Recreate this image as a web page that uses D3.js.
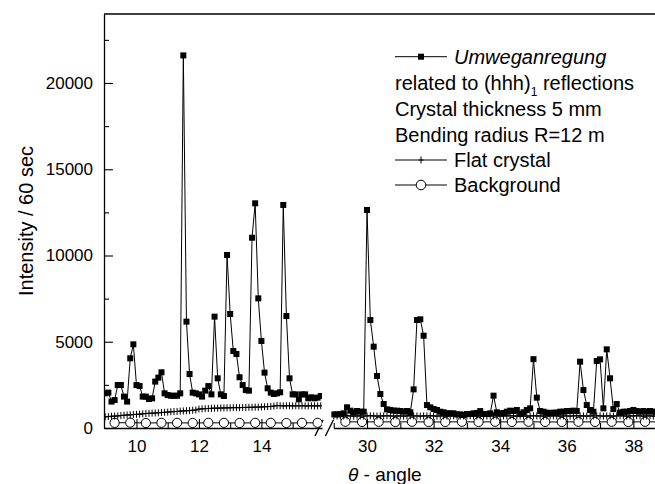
<!DOCTYPE html>
<html>
<head>
<meta charset="utf-8">
<script src="https://cdn.jsdelivr.net/npm/d3@7"></script>
<style>
  body { margin: 0; background: #fff; }
  svg { display: block; }
  text, tspan { font-family: "Liberation Sans", Arial, sans-serif; fill: #000; }
</style>
</head>
<body>
<svg id="chart" width="655" height="484"></svg>
<script>
// ---- scan grids (angle in degrees) ----
const scanLeft  = { start: 9.0,  step: 0.1 };
const scanRight = { start: 29.0, step: 0.1 };

// Umweganregung intensities, low-angle scan (9.0 .. 15.9 deg)
const umwegLeft = [
  2010, 2050, 1530, 1620, 2490, 2490, 1820, 1530, 4040, 4850,
  2490, 2430, 1820, 1820, 1680, 1720, 2690, 2920, 3230, 2010,
  1910, 1870, 1870, 1870, 2010, 21600, 6165, 3130, 2050, 2010,
  1950, 1820, 2165, 2430, 1950, 6455, 2880, 1950, 1855, 10030,
  6610, 4465, 4290, 2940, 2490, 2200, 2165, 11030, 13025, 7515,
  5045, 3210, 2300, 2050, 1970, 2010, 2070, 12930, 6490, 2880,
  1950, 1950, 1660, 1950, 1950, 1720, 1780, 1720, 1760, 1855
];
// Umweganregung intensities, high-angle scan (29.0 .. 38.7 deg)
const umwegRight = [
  790, 790, 800, 850, 1200, 1005, 910, 985, 945, 945,
  12640, 6260, 4715, 3015, 1970, 1390, 1080, 1045, 1005, 1005,
  985, 945, 985, 910, 2240, 6260, 6300, 5350, 1330, 1200,
  1100, 1045, 945, 910, 850, 850, 850, 790, 790, 755,
  810, 810, 850, 870, 980, 810, 810, 850, 1875, 910,
  850, 870, 945, 1005, 985, 1045, 810, 910, 1045, 1140,
  3990, 1760, 985, 945, 890, 850, 890, 890, 945, 945,
  985, 985, 1005, 985, 3845, 2200, 1333, 1045, 945, 3885,
  3980, 1140, 4560, 2880, 1100, 1390, 890, 945, 945, 985,
  1045, 985, 945, 985, 945, 985, 945, 945
];

// Flat crystal intensities on the same grids
const flatLeft = [
  650, 660, 680, 690, 700, 720, 740, 750, 760, 780,
  790, 800, 820, 840, 850, 860, 870, 880, 900, 910,
  920, 940, 950, 960, 980, 990, 1000, 1010, 1030, 1040,
  1100, 1110, 1120, 1130, 1140, 1150, 1150, 1160, 1160, 1170,
  1170, 1180, 1180, 1180, 1190, 1190, 1200, 1200, 1210, 1210,
  1220, 1230, 1240, 1250, 1270, 1300, 1290, 1280, 1290, 1290,
  1280, 1290, 1280, 1290, 1280, 1280, 1290, 1280, 1280, 1290
];
const flatRight = [
  690, 700, 690, 700, 710, 700, 690, 700, 700, 690,
  700, 710, 700, 690, 700, 700, 710, 700, 690, 700,
  700, 690, 700, 710, 700, 700, 690, 700, 700, 710,
  700, 690, 700, 700, 690, 700, 710, 700, 690, 700,
  700, 710, 700, 690, 700, 700, 690, 700, 710, 700,
  690, 700, 700, 710, 700, 690, 700, 700, 690, 700,
  710, 700, 700, 690, 700, 700, 710, 700, 690, 700,
  700, 690, 700, 710, 700, 700, 690, 700, 700, 710,
  700, 690, 700, 700, 690, 700, 710, 700, 690, 700,
  700, 710, 700, 690, 700, 700, 690, 700
];

// Background measurements (angle, intensity)
const bgLeftAngles  = [9.3, 9.8, 10.3, 10.8, 11.3, 11.8, 12.3, 12.8, 13.3, 13.8, 14.3, 14.8, 15.3, 15.8];
const bgLeftValues  = [300, 310, 290, 300, 300, 290, 300, 300, 290, 300, 300, 290, 300, 300];
const bgRightAngles = [29.35, 29.85, 30.35, 30.85, 31.35, 31.85, 32.35, 32.85, 33.35, 33.85,
                       34.35, 34.85, 35.35, 35.85, 36.35, 36.85, 37.35, 37.85, 38.35, 38.85];
const bgRightValues = [360, 350, 360, 350, 360, 350, 350, 360, 350, 360,
                       350, 360, 350, 350, 360, 350, 360, 350, 360, 350];

// Axis ticks
const yTicks       = [0, 5000, 10000, 15000, 20000];
const yMinorTicks  = [2500, 7500, 12500, 17500, 22500];
const xTicksLeft   = [10, 12, 14];
const xMinorLeft   = [11, 13, 15];
const xTicksRight  = [30, 32, 34, 36, 38];
const xMinorRight  = [29, 31, 33, 35, 37];

// ---- layout ----
const plotTop = 14, plotBottom = 428, plotLeft = 104, plotRight = 655;
const leftEnd = 322, rightStart = 333.4;

const svg = d3.select("#chart");

const y  = d3.scaleLinear().domain([0, 24000]).range([plotBottom, plotTop]);
const xL = d3.scaleLinear().domain([8.96, 15.94]).range([plotLeft, leftEnd]);
const xR = d3.scaleLinear().domain([28.99, 38.65]).range([rightStart, plotRight]);

const toPoints = (vals, scan) => vals.map((v, i) => ({ x: +(scan.start + i * scan.step).toFixed(2), v }));
const pair = (xs, vs) => xs.map((x, i) => ({ x, v: vs[i] }));

const segments = [
  { x: xL, umweg: toPoints(umwegLeft, scanLeft),  flat: toPoints(flatLeft, scanLeft),  bg: pair(bgLeftAngles, bgLeftValues),
    clip: [plotLeft, leftEnd] },
  { x: xR, umweg: toPoints(umwegRight, scanRight), flat: toPoints(flatRight, scanRight), bg: pair(bgRightAngles, bgRightValues),
    clip: [rightStart - 2, plotRight] }
];

// ---- axes ----
const fmt = d3.format("d");
function styleAxis(g) {
  g.selectAll("path.domain").attr("stroke", "#000").attr("stroke-width", 1.3);
  g.selectAll(".tick line").attr("stroke", "#000").attr("stroke-width", 1.1);
  g.selectAll(".tick text").attr("font-size", 17).attr("fill", "#000")
    .attr("font-family", '"Liberation Sans", Arial, sans-serif');
}

// y axis
svg.append("g").attr("transform", `translate(${plotLeft},0)`)
  .call(d3.axisLeft(y).tickValues(yTicks).tickFormat(fmt).tickSize(-9).tickSizeOuter(0).tickPadding(11))
  .call(styleAxis);
svg.append("g").attr("transform", `translate(${plotLeft},0)`)
  .call(d3.axisLeft(y).tickValues(yMinorTicks).tickFormat("").tickSize(-5).tickSizeOuter(0))
  .call(g => g.select("path.domain").remove())
  .call(styleAxis);

// x axes (two segments)
[[xL, xTicksLeft, xMinorLeft], [xR, xTicksRight, xMinorRight]].forEach(([sc, major, minor]) => {
  svg.append("g").attr("transform", `translate(0,${plotBottom})`)
    .call(d3.axisBottom(sc).tickValues(major).tickFormat(fmt).tickSize(-9).tickSizeOuter(0).tickPadding(12))
    .call(styleAxis);
  svg.append("g").attr("transform", `translate(0,${plotBottom})`)
    .call(d3.axisBottom(sc).tickValues(minor).tickFormat("").tickSize(-5).tickSizeOuter(0))
    .call(g => g.select("path.domain").remove())
    .call(styleAxis);
});

// top frame line
svg.append("line").attr("x1", plotLeft).attr("x2", plotRight).attr("y1", plotTop).attr("y2", plotTop)
  .attr("stroke", "#000").attr("stroke-width", 1.3);

// axis break marks
const breakG = svg.append("g").attr("stroke", "#000").attr("stroke-width", 1.4);
[leftEnd - 3, rightStart - 4].forEach(cx => {
  breakG.append("line").attr("x1", cx - 4).attr("y1", plotBottom + 8).attr("x2", cx + 4).attr("y2", plotBottom - 8);
});

// ---- data ----
const crossPath = "M-2.5,0H2.5M0,-3.5V3.5";

segments.forEach((s, k) => {
  const clipId = "clip" + k;
  svg.append("clipPath").attr("id", clipId).append("rect")
    .attr("x", s.clip[0]).attr("y", 0).attr("width", s.clip[1] - s.clip[0]).attr("height", 484);
  const g = svg.append("g").attr("clip-path", `url(#${clipId})`);
  const line = d3.line().x(d => s.x(d.x)).y(d => y(d.v));

  // background
  g.append("path").datum(s.bg).attr("d", line).attr("fill", "none").attr("stroke", "#000").attr("stroke-width", 1);
  g.selectAll("circle.bg").data(s.bg).join("circle").attr("class", "bg")
    .attr("cx", d => s.x(d.x)).attr("cy", d => y(d.v)).attr("r", 4.6)
    .attr("fill", "#fff").attr("stroke", "#000").attr("stroke-width", 1);

  // flat crystal
  g.append("path").datum(s.flat).attr("d", line).attr("fill", "none").attr("stroke", "#000").attr("stroke-width", 1);
  g.selectAll("path.flat").data(s.flat).join("path").attr("class", "flat")
    .attr("transform", d => `translate(${s.x(d.x)},${y(d.v)})`)
    .attr("d", crossPath).attr("stroke", "#000").attr("stroke-width", 1).attr("fill", "none");

  // Umweganregung
  g.append("path").datum(s.umweg).attr("d", line).attr("fill", "none").attr("stroke", "#000").attr("stroke-width", 1);
  g.selectAll("rect.um").data(s.umweg).join("rect").attr("class", "um")
    .attr("x", d => s.x(d.x) - 3).attr("y", d => y(d.v) - 3).attr("width", 6).attr("height", 6)
    .attr("fill", "#000");
});

// ---- axis titles ----
svg.append("text").attr("transform", `translate(33,221) rotate(-90)`)
  .attr("text-anchor", "middle").attr("font-size", 20).text("Intensity / 60 sec");

const xt = svg.append("text").attr("x", 348).attr("y", 481).attr("font-size", 19);
xt.append("tspan").attr("font-style", "italic").text("θ");
xt.append("tspan").text(" - angle");

// ---- legend ----
const lg = svg.append("g").attr("font-size", 20);
const lx0 = 395, lx1 = 447, ltx = 454;
const rows = [56.7, 83, 109, 134.5, 160, 185];
function legendLine(yc) {
  lg.append("line").attr("x1", lx0).attr("x2", lx1).attr("y1", yc).attr("y2", yc)
    .attr("stroke", "#000").attr("stroke-width", 1);
}
legendLine(rows[0]);
lg.append("rect").attr("x", 421 - 3).attr("y", rows[0] - 3).attr("width", 6).attr("height", 6).attr("fill", "#000");
lg.append("text").attr("x", ltx).attr("y", rows[0]).attr("dy", "0.36em").attr("font-style", "italic").text("Umweganregung");

const t2 = lg.append("text").attr("x", lx0).attr("y", rows[1]).attr("dy", "0.36em");
t2.append("tspan").text("related to (hhh)");
t2.append("tspan").attr("font-size", 12).attr("dy", 6).attr("fill", "#000").text("1");
t2.append("tspan").attr("dy", -6).text(" reflections");

lg.append("text").attr("x", lx0).attr("y", rows[2]).attr("dy", "0.36em").text("Crystal thickness 5 mm");
lg.append("text").attr("x", lx0).attr("y", rows[3]).attr("dy", "0.36em").text("Bending radius R=12 m");

legendLine(rows[4]);
lg.append("path").attr("transform", `translate(421,${rows[4]})`).attr("d", crossPath)
  .attr("stroke", "#000").attr("stroke-width", 1);
lg.append("text").attr("x", ltx).attr("y", rows[4]).attr("dy", "0.36em").text("Flat crystal");

legendLine(rows[5]);
lg.append("circle").attr("cx", 421).attr("cy", rows[5]).attr("r", 4.8)
  .attr("fill", "#fff").attr("stroke", "#000").attr("stroke-width", 1);
lg.append("text").attr("x", ltx).attr("y", rows[5]).attr("dy", "0.36em").text("Background");
</script>
</body>
</html>
